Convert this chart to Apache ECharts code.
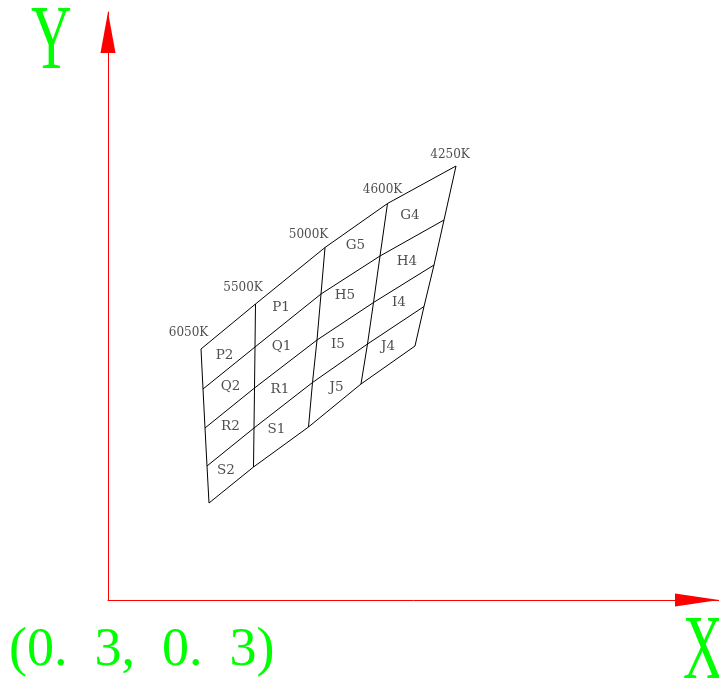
<!DOCTYPE html>
<html>
<head>
<meta charset="utf-8">
<title>CCT bins</title>
<script src="https://cdn.jsdelivr.net/npm/echarts@6/dist/echarts.min.js"></script>
<style>
  html, body { margin: 0; padding: 0; background: #fff; }
  #chart { width: 719px; height: 684px; }
</style>
</head>
<body>
<div id="chart"></div>
<script>
// Corner points along each CCT line, top row line first (chromaticity x, y)
const cct6050 = [[0.3186, 0.3502], [0.3190, 0.3422], [0.3194, 0.3344], [0.3198, 0.3268], [0.3202, 0.3194]];
const cct5500 = [[0.3295, 0.3592], [0.3294, 0.3506], [0.3293, 0.3424], [0.3292, 0.3344], [0.3291, 0.3266]];
const cct5000 = [[0.3434, 0.3705], [0.3426, 0.3612], [0.3418, 0.3520], [0.3409, 0.3435], [0.3401, 0.3346]];
const cct4600 = [[0.3559, 0.3793], [0.3544, 0.3688], [0.3531, 0.3595], [0.3519, 0.3512], [0.3506, 0.3432]];
const cct4250 = [[0.3696, 0.3868], [0.3672, 0.3760], [0.3652, 0.3670], [0.3632, 0.3587], [0.3614, 0.3508]];

// CCT names and where their labels sit
const cctNames = ['6050K', '5500K', '5000K', '4600K', '4250K'];
const cctLabelX = [0.3161, 0.3270, 0.3401, 0.3549, 0.3684];
const cctLabelY = [0.3534, 0.3625, 0.3730, 0.3820, 0.3891];

// Bin names and label anchors
const binNames = ['P2', 'Q2', 'R2', 'S2', 'P1', 'Q1', 'R1', 'S1',
                  'G5', 'H5', 'I5', 'J5', 'G4', 'H4', 'I4', 'J4'];
const binLabelX = [0.3233, 0.3245, 0.3245, 0.3236, 0.3346, 0.3347, 0.3344, 0.3337,
                   0.3495, 0.3474, 0.3460, 0.3457, 0.3604, 0.3598, 0.3582, 0.3560];
const binLabelY = [0.3490, 0.3428, 0.3347, 0.3260, 0.3585, 0.3507, 0.3422, 0.3342,
                   0.3710, 0.3610, 0.3512, 0.3426, 0.3770, 0.3677, 0.3596, 0.3507];

const cctLines = [cct6050, cct5500, cct5000, cct4600, cct4250];

// A plain black polyline through the given points
function lineSeries(pts) {
    return {
        type: 'line',
        data: pts,
        symbol: 'none',
        silent: true,
        lineStyle: { color: '#000', width: 1 },
        z: 2
    };
}

// Invisible points that only carry a text label
function labelSeries(names, xs, ys, fontSize) {
    return {
        type: 'scatter',
        symbolSize: 1,
        silent: true,
        itemStyle: { color: 'rgba(0,0,0,0)' },
        label: {
            show: true,
            position: 'inside',
            formatter: '{b}',
            color: '#222',
            fontFamily: 'DejaVu Serif',
            fontSize: fontSize
        },
        data: names.map(function (n, i) {
            return { name: n, value: [xs[i], ys[i]] };
        }),
        z: 3
    };
}

function buildSeries() {
    var series = [];
    // CCT boundary lines
    cctLines.forEach(function (pts) {
        series.push(lineSeries(pts));
    });
    // Row lines join the j-th corner of every CCT line
    for (var j = 0; j < cct6050.length; j++) {
        series.push(lineSeries(cctLines.map(function (pts) { return pts[j]; })));
    }
    series.push(labelSeries(cctNames, cctLabelX, cctLabelY, 12));
    series.push(labelSeries(binNames, binLabelX, binLabelY, 13.5));
    return series;
}

// Red axis line whose triangle tip sits at the end of the axis
function axis(min, max, arrowSize) {
    return {
        type: 'value',
        min: min,
        max: max,
        axisLine: {
            show: true,
            onZero: false,
            symbol: ['none', 'triangle'],
            symbolSize: arrowSize,
            symbolOffset: [0, -arrowSize[1] / 2],
            lineStyle: { color: '#ff0000', width: 1 }
        },
        axisTick: { show: false },
        axisLabel: { show: false },
        splitLine: { show: false }
    };
}

// Big green axis captions, narrowed to match the condensed face
function caption(text, x, y, size, sx) {
    return {
        type: 'text',
        x: x,
        y: y,
        scaleX: sx,
        silent: true,
        style: {
            text: text,
            fill: '#00ff00',
            font: size + 'px "Liberation Serif"',
            textAlign: 'left',
            textVerticalAlign: 'middle'
        }
    };
}

var chart = echarts.init(document.getElementById('chart'), null, { renderer: 'canvas' });
chart.setOption({
    animation: false,
    backgroundColor: '#fff',
    grid: { left: 108, right: 0, top: 12, bottom: 84, containLabel: false },
    xAxis: axis(0.3, 0.4222, [13, 44]),
    yAxis: axis(0.3, 0.4176, [15, 41]),
    series: buildSeries(),
    graphic: [
        caption('Y', 31, 44, 92, 0.61),
        caption('X', 683, 654, 92, 0.61),
        caption('(0.\u20023,\u20020.\u20023)', 9, 651, 54, 1)
    ]
});
</script>
</body>
</html>
